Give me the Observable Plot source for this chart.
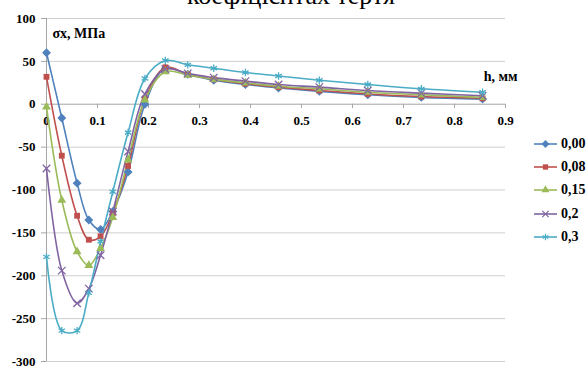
<!DOCTYPE html>
<html><head><meta charset="utf-8">
<script src="https://cdn.jsdelivr.net/npm/d3@7"></script>
<script src="https://cdn.jsdelivr.net/npm/@observablehq/plot@0.6"></script>
<style>
body{margin:0;background:#fff;}
#wrap{position:relative;width:588px;height:368px;overflow:hidden;font-family:"Liberation Serif","Times New Roman",serif;}
#title{position:absolute;left:-3px;width:588px;top:-17px;text-align:center;font-size:26px;line-height:26px;color:#000;white-space:nowrap;}
#chart{position:absolute;left:0;top:0;}
#chart svg text{font-family:"Liberation Serif","Times New Roman",serif !important;}
#legend{position:absolute;left:533px;top:132px;font-weight:bold;font-size:14px;font-family:"Liberation Serif","Times New Roman",serif;}
#legend .row{display:flex;align-items:center;height:23.4px;}
#legend span{margin-left:3px;}
</style></head>
<body>
<div id="wrap">
  <div id="chart"></div>
  <div id="title">коефіцієнтах тертя</div>
  <div id="legend"></div>
</div>
<script>
// ---- data ----
const h = [0, 0.03, 0.06, 0.083, 0.106, 0.13, 0.16, 0.193, 0.233, 0.277, 0.328, 0.39, 0.455, 0.535, 0.63, 0.735, 0.855];
const s000 = [60, -16, -92, -135, -146, -125, -79, 0, 42, 35, 28, 23, 19, 15, 11, 8, 6];
const s008 = [32, -60, -130, -158, -154, -127, -72, 6, 43, 35, 29, 24, 20, 16, 12, 9, 7];
const s015 = [-3, -112, -172, -188, -168, -132, -65, 5, 38, 34, 29, 25, 21, 18, 14, 11, 8];
const s02  = [-75, -194, -232, -215, -176, -125, -55, 12, 41, 36, 31, 27, 23, 20, 16, 13, 10];
const s03  = [-178, -264, -264, -220, -160, -102, -33, 30, 51, 46, 42, 37, 33, 28, 23, 18, 14];
const seriesNames = ["0,00", "0,08", "0,15", "0,2", "0,3"];
const seriesValues = [s000, s008, s015, s02, s03];
const colors = ["#4F81BD", "#C0504D", "#9BBB59", "#8064A2", "#4BACC6"];
const symbols = ["diamond2", "square", "triangle", "times", "asterisk"];
const yTicks = [-300, -250, -200, -150, -100, -50, 0, 50, 100];
const xTicks = [0, 0.1, 0.2, 0.3, 0.4, 0.5, 0.6, 0.7, 0.8, 0.9];
const xTickLabels = ["0", "0.1", "0.2", "0.3", "0.4", "0.5", "0.6", "0.7", "0.8", "0.9"];
const yTitle = "σx, МПа";
const xTitle = "h, мм";

const data = [];
seriesNames.forEach((s, i) => h.forEach((x, j) => data.push({h: x, v: seriesValues[i][j], s})));

const FONT = "'Liberation Serif', 'Times New Roman', serif";
const marks = [
  Plot.ruleY(yTicks, {stroke: "#cfcfcf", strokeWidth: 1}),
  Plot.ruleX([0], {stroke: "#a6a6a6"}),
  Plot.ruleY([0], {stroke: "#b5b5b5"}),
  Plot.ruleX(xTicks.slice(1), {x: d => d, y1: 0, y2: -5, stroke: "#a6a6a6"}),
  Plot.axisY(yTicks, {tickSize: 5, tickPadding: 6, stroke: "#a6a6a6", fontSize: 13, fontWeight: "bold", fontFamily: FONT, fill: "#000", label: null, tickFormat: d => String(d)}),
  Plot.text(xTicks, {x: d => d, y: () => 0, text: (d, i) => xTickLabels[i], dy: 17, fontSize: 13, fontWeight: "bold", fontFamily: FONT, fill: "#000"}),
  Plot.text([yTitle], {frameAnchor: "top-left", dx: 6, dy: 10, fontSize: 14, fontWeight: "bold", fontFamily: FONT, fill: "#000", textAnchor: "start"}),
  Plot.text([xTitle], {x: () => 0.9, y: () => 0, dx: 12, dy: -28, fontSize: 14, fontWeight: "bold", fontFamily: FONT, fill: "#000", textAnchor: "end"})
];
seriesNames.forEach((s, i) => {
  const d = data.filter(e => e.s === s);
  marks.push(Plot.line(d, {x: "h", y: "v", stroke: colors[i], strokeWidth: 1.6, curve: "catmull-rom"}));
});
seriesNames.forEach((s, i) => {
  const d = data.filter(e => e.s === s);
  const stroked = symbols[i] === "times" || symbols[i] === "asterisk";
  marks.push(Plot.dot(d, stroked
    ? {x: "h", y: "v", symbol: symbols[i], r: 3.5, stroke: colors[i], strokeWidth: 1.3, fill: "none"}
    : {x: "h", y: "v", symbol: symbols[i], r: symbols[i] === "diamond2" ? 4 : 3.3, fill: colors[i], stroke: "none"}));
});

const chart = Plot.plot({
  width: 588, height: 368,
  marginLeft: 46, marginRight: 83, marginTop: 18, marginBottom: 7,
  style: {fontFamily: FONT, background: "#fff", overflow: "visible"},
  x: {domain: [0, 0.9], axis: null},
  y: {domain: [-300, 100], axis: null},
  marks
});
document.getElementById("chart").appendChild(chart);

// legend
const legend = document.getElementById("legend");
const symMap = {diamond2: d3.symbolDiamond2, square: d3.symbolSquare, triangle: d3.symbolTriangle, times: d3.symbolTimes, asterisk: d3.symbolAsterisk};
seriesNames.forEach((s, i) => {
  const row = document.createElement("div");
  row.className = "row";
  const stroked = symbols[i] === "times" || symbols[i] === "asterisk";
  const r = symbols[i] === "diamond2" ? 3.5 : 3;
  const path = d3.symbol(symMap[symbols[i]], r * r * Math.PI)();
  row.innerHTML = `<svg width="25" height="10"><line x1="1" x2="24" y1="5" y2="5" stroke="${colors[i]}" stroke-width="1.6"/>` +
    `<path transform="translate(12.5,5)" d="${path}" ${stroked ? `fill="none" stroke="${colors[i]}" stroke-width="1.2"` : `fill="${colors[i]}"`}/></svg><span>${s}</span>`;
  legend.appendChild(row);
});
</script>
</body></html>
